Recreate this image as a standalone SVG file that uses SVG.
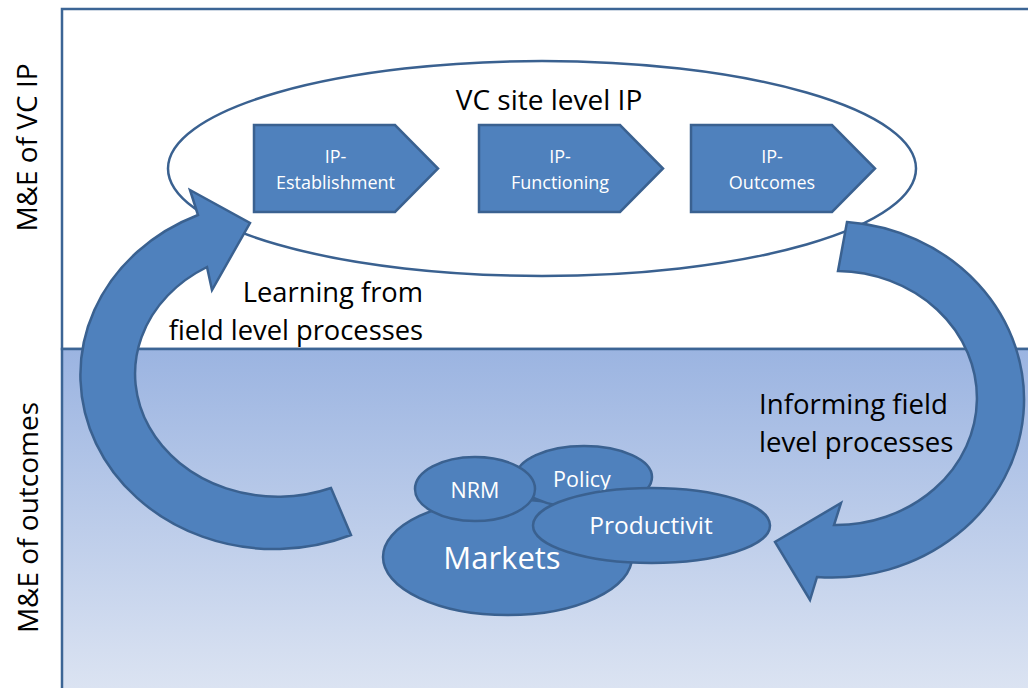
<svg xmlns="http://www.w3.org/2000/svg" width="1028" height="688" viewBox="0 0 1028 688">
  <defs>
    <linearGradient id="bottomGrad" x1="0" y1="0" x2="0" y2="1">
      <stop offset="0" stop-color="#9bb4e1"/>
      <stop offset="1" stop-color="#dfe6f3"/>
    </linearGradient>
    <style>
      .frame { stroke: #3c6595; stroke-width: 2.5; }
      .shape { fill: #4f81bd; stroke: #3a6190; stroke-width: 2.5; stroke-linejoin: miter; }
      .outline { fill: #ffffff; stroke: #3a6190; stroke-width: 2.5; }
      .label { font-family: "Open Sans", "Liberation Sans", sans-serif; fill: #000000; }
      .white { font-family: "Open Sans", "Liberation Sans", sans-serif; fill: #ffffff; text-anchor: middle; }
    </style>
  </defs>

  <g id="background">
    <rect x="0" y="0" width="1028" height="688" fill="#ffffff"/>
    <rect class="frame" x="62" y="9" width="990" height="340" fill="#ffffff"/>
    <rect class="frame" x="62" y="349" width="990" height="360" fill="url(#bottomGrad)"/>
  </g>

  <g id="side-labels">
    <text class="label" font-size="28" text-anchor="middle" transform="translate(37,147.5) rotate(-90)">M&amp;E of VC IP</text>
    <text class="label" font-size="28" text-anchor="middle" transform="translate(38,517.5) rotate(-90)">M&amp;E of outcomes</text>
  </g>

  <g id="vc-site-level-ip">
    <ellipse class="outline" cx="542" cy="168.5" rx="374" ry="107.5"/>
    <text class="label" font-size="28" text-anchor="middle" x="549" y="110">VC site level IP</text>
  </g>

  <g id="ip-establishment">
    <polygon class="shape" points="254,125 395,125 438,168.5 395,212 254,212"/>
    <text class="white" font-size="18" x="335.5" y="163">IP-</text>
    <text class="white" font-size="18" x="335.5" y="188.5">Establishment</text>
  </g>
  <g id="ip-functioning">
    <polygon class="shape" points="479,125 620,125 663,168.5 620,212 479,212"/>
    <text class="white" font-size="18" x="560" y="163">IP-</text>
    <text class="white" font-size="18" x="560" y="188.5">Functioning</text>
  </g>
  <g id="ip-outcomes">
    <polygon class="shape" points="691,125 832,125 875,168.5 832,212 691,212"/>
    <text class="white" font-size="18" x="772" y="163">IP-</text>
    <text class="white" font-size="18" x="772" y="188.5">Outcomes</text>
  </g>

  <g id="connectors">
    <path id="arrow-learning" class="shape" d="M351,535 A194,174 0 1 1 198,215 L190,190 L250,223 L212,290 L207,267 A143,123 0 0 0 331,488 Z"/>
    <path id="arrow-informing" class="shape" d="M847,222 A192,178 0 0 1 817,577 L810,600 L775,542 L841,503 L834,525 A141,127 0 0 0 838,271 Z"/>
  </g>

  <g id="arrow-labels">
    <text class="label" font-size="27.3" text-anchor="end" x="423" y="302">Learning from</text>
    <text class="label" font-size="27.3" text-anchor="end" x="423" y="340">field level processes</text>
    <text class="label" font-size="27.6" x="759" y="414">Informing field</text>
    <text class="label" font-size="27.6" x="759" y="452">level processes</text>
  </g>

  <g id="markets">
    <ellipse class="shape" cx="507.5" cy="557" rx="124.5" ry="58"/>
    <text class="white" font-size="31" x="502" y="569">Markets</text>
  </g>
  <g id="policy">
    <ellipse class="shape" cx="584" cy="477" rx="68" ry="31"/>
    <text class="white" font-size="21.5" x="582" y="487">Policy</text>
  </g>
  <g id="nrm">
    <ellipse class="shape" cx="475" cy="489" rx="60" ry="32"/>
    <text class="white" font-size="21.5" x="475" y="498">NRM</text>
  </g>
  <g id="productivit">
    <ellipse class="shape" cx="651.5" cy="525.5" rx="118.5" ry="37.5"/>
    <text class="white" font-size="24.5" x="651" y="534">Productivit</text>
  </g>
</svg>
